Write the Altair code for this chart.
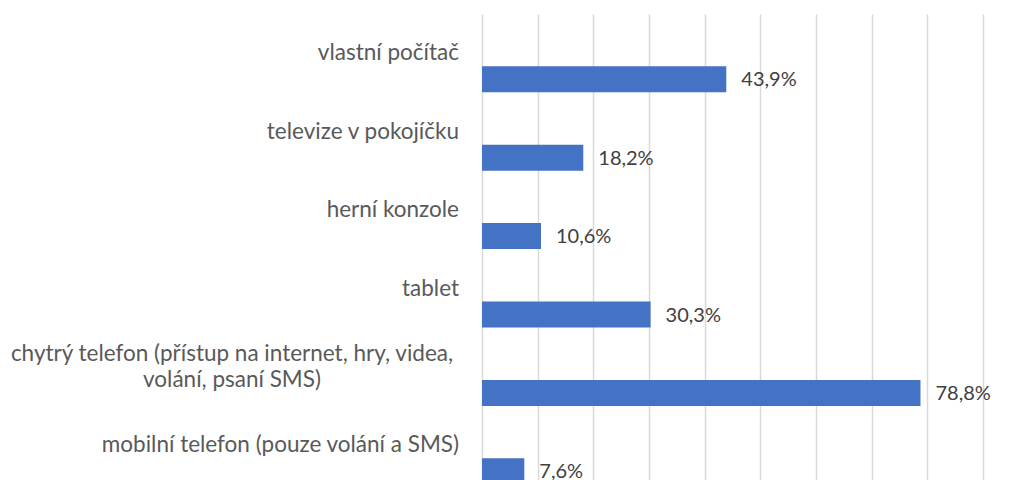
import altair as alt
import pandas as pd

categories = [
    "vlastní počítač",
    "televize v pokojíčku ",
    "herní konzole",
    "tablet",
    "chytrý telefon (přístup na internet, hry, videa,\nvolání, psaní SMS)",
    "mobilní telefon (pouze volání a SMS)",
]
values = [43.9, 18.2, 10.6, 30.3, 78.8, 7.6]
grid_ticks = [0, 10, 20, 30, 40, 50, 60, 70, 80, 90]

df = pd.DataFrame({
    "kategorie": categories,
    "hodnota": values,
    "poradi": list(range(len(categories))),
})
df["popisek"] = [f"{v:.1f}".replace(".", ",") + "%" for v in values]
df["multiline"] = df["kategorie"].str.contains("\n")

FONT = "Lato"
x_scale = alt.Scale(domain=[0, 97.4], nice=False, zero=True, padding=0)
y_scale = alt.Scale(domain=[-0.833, 5.111], reverse=True, nice=False, zero=False, padding=0)

x_enc = alt.X(
    "hodnota:Q",
    scale=x_scale,
    axis=alt.Axis(
        values=grid_ticks, labels=False, ticks=False, domain=False, title=None,
        grid=True, gridColor="#D9D9D9", gridWidth=1.5,
    ),
)
y_enc = alt.Y("poradi:Q", scale=y_scale, axis=None)

bars = alt.Chart(df).mark_bar(
    orient="horizontal", size=26, color="#4472C4", clip=True
).encode(x=x_enc, y=y_enc)

value_labels = alt.Chart(df).mark_text(
    align="left", baseline="middle", dx=15, dy=1, font=FONT, fontSize=20,
    color="#404040",
).encode(x="hodnota:Q", y=y_enc, text="popisek:N")

cat_single = alt.Chart(df).transform_filter("!datum.multiline").mark_text(
    align="right", baseline="alphabetic", dy=-19, font=FONT, fontSize=22.5,
    color="#595959",
).encode(x=alt.value(-23), y=y_enc, text="kategorie:N")

cat_multi = alt.Chart(df).transform_filter("datum.multiline").mark_text(
    align="center", baseline="alphabetic", dy=-32, font=FONT, fontSize=22.5,
    color="#595959", lineBreak="\n", lineHeight=26.6,
).encode(x=alt.value(-250), y=y_enc, text="kategorie:N")

chart = alt.layer(bars, value_labels, cat_single, cat_multi).properties(
    width=542,
    height=466,
    autosize=alt.AutoSizeParams(type="none"),
    padding={"left": 474, "top": 6, "right": 0, "bottom": 0},
).configure_view(stroke=None)

chart.save("out.html", embed_options={"renderer": "svg", "actions": False})
